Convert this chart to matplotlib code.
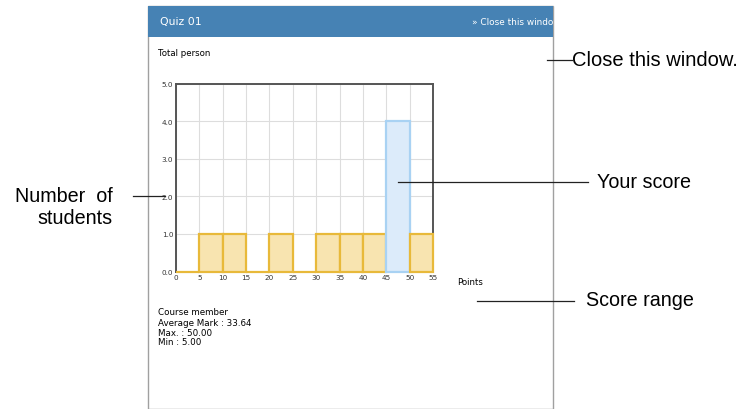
import matplotlib
matplotlib.use('Agg')
import matplotlib.pyplot as plt
from matplotlib.lines import Line2D
from matplotlib.patches import Rectangle
import numpy as np

# datos del histograma (bins de 5 puntos)
bin_edges = [0, 5, 10, 15, 20, 25, 30, 35, 40, 45, 50, 55]
counts = [0, 1, 1, 0, 1, 0, 1, 1, 1, 4, 1]
your_bin = 9  # 45-50
y_ticks = [0, 1, 2, 3, 4, 5]
stats_lines = ["Course member", "Average Mark : 33.64", "Max. : 50.00", "Min : 5.00"]

W, H = 745, 410
ui_font = ['DejaVu Sans']
label_font = ['Liberation Sans', 'DejaVu Sans']


def fx(x):
    return x / W


def fy(y):
    return 1 - y / H


fig = plt.figure(figsize=(W / 100, H / 100), dpi=100)

# ventana
fig.add_artist(Rectangle((fx(148), fy(410)), fx(553) - fx(148), fy(7) - fy(410),
                         transform=fig.transFigure, facecolor='white',
                         edgecolor='#a0a0a0', linewidth=1.0, zorder=-2))
fig.add_artist(Rectangle((fx(148), fy(38)), fx(553) - fx(148), fy(7) - fy(38),
                         transform=fig.transFigure, facecolor='#4682b4',
                         edgecolor='none', zorder=-1))
fig.text(fx(160), fy(22.5), "Quiz 01", color='white', fontsize=7.8,
         family=ui_font, va='center', ha='left')
fig.text(fx(553), fy(22.5), "\u00bb Close this windo", color='white', fontsize=6.4,
         family=ui_font, va='center', ha='right')
fig.text(fx(158), fy(54), "Total person", fontsize=6.2, family=ui_font,
         va='center', ha='left')

# histograma
ax = fig.add_axes([fx(176), fy(272.5), fx(433) - fx(176), fy(84.5) - fy(272.5)])
lefts = np.array(bin_edges[:-1])
widths = np.diff(bin_edges)
fills = ['#f8e4b0'] * len(counts)
edges = ['#e8b93a'] * len(counts)
fills[your_bin] = '#dcebfa'
edges[your_bin] = '#a9d2f3'
ax.bar(lefts, counts, width=widths, align='edge', color=fills,
       edgecolor=edges, linewidth=1.6, zorder=5, clip_on=False)
ax.set_xlim(bin_edges[0], bin_edges[-1])
ax.set_ylim(y_ticks[0], y_ticks[-1])
ax.set_xticks(bin_edges)
ax.set_yticks(y_ticks)
ax.set_xticklabels([str(b) for b in bin_edges], fontsize=5.2, family=ui_font, color='#333333')
ax.set_yticklabels([f"{v:.1f}" for v in y_ticks], fontsize=5.2, family=ui_font, color='#333333')
ax.tick_params(length=0, pad=2)
ax.grid(True, color='#dddddd', linewidth=0.8, zorder=0)
ax.set_axisbelow(True)
for s in ax.spines.values():
    s.set_color('#555555')
    s.set_linewidth(1.4)
    s.set_zorder(4)

fig.text(fx(457), fy(283), "Points", fontsize=6.2, family=ui_font, va='center', ha='left')

for i, line in enumerate(stats_lines):
    fig.text(fx(158), fy(313 + i * 10), line, fontsize=6.3, family=ui_font,
             va='center', ha='left')

# anotaciones
def callout(x0, x1, y):
    fig.add_artist(Line2D([fx(x0), fx(x1)], [fy(y), fy(y)], transform=fig.transFigure,
                          color='#222222', linewidth=0.9, zorder=6))


callout(547, 572, 61)
fig.text(fx(572), fy(61), "Close this window.", fontsize=14.5, family=label_font,
         va='center', ha='left')
callout(398, 588, 183)
fig.text(fx(597), fy(183), "Your score", fontsize=14.2, family=label_font,
         va='center', ha='left')
callout(133, 165, 197)
fig.text(fx(113), fy(208), "Number  of\nstudents", fontsize=14.2, family=label_font,
         va='center', ha='right', linespacing=1.2, multialignment='right')
callout(477, 574, 302)
fig.text(fx(586), fy(301), "Score range", fontsize=14.2, family=label_font,
         va='center', ha='left')

plt.savefig('out.png', dpi=100)
plt.close()
